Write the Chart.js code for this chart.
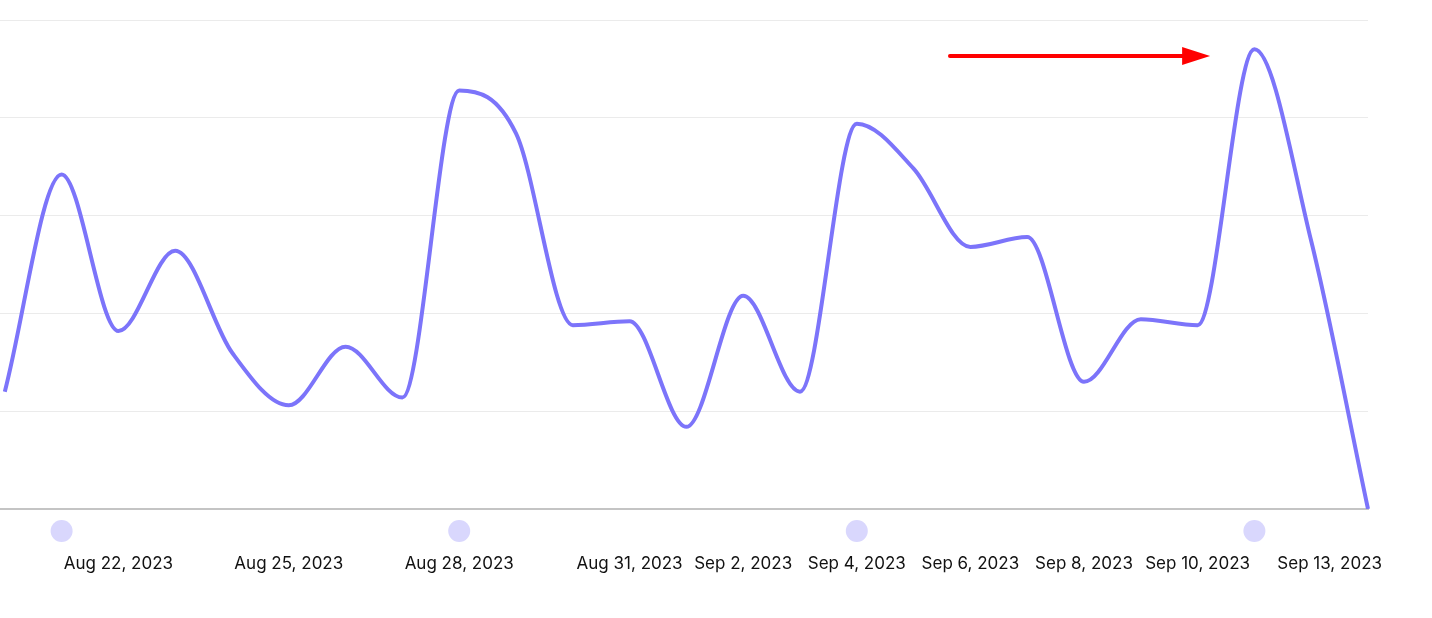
<!DOCTYPE html>
<html>
<head>
<meta charset="utf-8">
<script src="https://cdn.jsdelivr.net/npm/chart.js@4/dist/chart.umd.min.js"></script>
<style>
  html, body { margin: 0; padding: 0; background: #fff; overflow: hidden; }
  #wrap { position: absolute; left: -56px; top: 0; width: 1438px; height: 618px; }
</style>
</head>
<body>
<div id="wrap"><canvas id="chart"></canvas></div>
<script>
// one label per day, Aug 19 sits just off the left edge
const dates = [
  'Aug 19, 2023', 'Aug 20, 2023', 'Aug 21, 2023', 'Aug 22, 2023', 'Aug 23, 2023',
  'Aug 24, 2023', 'Aug 25, 2023', 'Aug 26, 2023', 'Aug 27, 2023', 'Aug 28, 2023',
  'Aug 29, 2023', 'Aug 30, 2023', 'Aug 31, 2023', 'Sep 1, 2023', 'Sep 2, 2023',
  'Sep 3, 2023', 'Sep 4, 2023', 'Sep 5, 2023', 'Sep 6, 2023', 'Sep 7, 2023',
  'Sep 8, 2023', 'Sep 9, 2023', 'Sep 10, 2023', 'Sep 11, 2023', 'Sep 12, 2023',
  'Sep 13, 2023'
];

const values = [
  null, 60, 171, 91, 132,
  80, 53, 83, 57, 214,
  192, 94, 96, 42, 109,
  60, 197, 174, 134, 139,
  65, 97, 94, 235, 137,
  0
];

const tickLabels = [
  'Aug 19, 2023', 'Aug 22, 2023', 'Aug 25, 2023', 'Aug 28, 2023', 'Aug 31, 2023',
  'Sep 2, 2023', 'Sep 4, 2023', 'Sep 6, 2023', 'Sep 8, 2023', 'Sep 10, 2023',
  'Sep 13, 2023'
];

// weekly markers under the axis
const markerDates = ['Aug 21, 2023', 'Aug 28, 2023', 'Sep 4, 2023', 'Sep 11, 2023'];

// arrow annotation, in axis units (category index, value)
const arrowStart = [17.64, 231.6];
const arrowEnd = [22.22, 231.6];

const extras = {
  id: 'extras',
  afterDraw(chart) {
    const ctx = chart.ctx;
    const xs = chart.scales.x;
    const ys = chart.scales.y;
    const area = chart.chartArea;

    ctx.save();
    // markers
    ctx.fillStyle = '#d9d7fd';
    markerDates.forEach(d => {
      const x = xs.getPixelForValue(dates.indexOf(d));
      ctx.beginPath();
      ctx.arc(x, area.bottom + 22, 11, 0, Math.PI * 2);
      ctx.fill();
    });

    // tick labels, kept inside the canvas
    ctx.font = '17px Inter, "Noto Sans", sans-serif';
    ctx.fillStyle = '#111';
    ctx.textAlign = 'center';
    ctx.textBaseline = 'middle';
    tickLabels.forEach(lbl => {
      let x = xs.getPixelForValue(dates.indexOf(lbl));
      const w = ctx.measureText(lbl).width;
      x = Math.min(x, chart.width - w / 2);
      ctx.fillText(lbl, x, area.bottom + 55);
    });

    // red arrow
    const x1 = xs.getPixelForValue(arrowStart[0]);
    const y1 = ys.getPixelForValue(arrowStart[1]);
    const x2 = xs.getPixelForValue(arrowEnd[0]);
    const y2 = ys.getPixelForValue(arrowEnd[1]);
    ctx.strokeStyle = '#ff0000';
    ctx.fillStyle = '#ff0000';
    ctx.lineWidth = 4;
    ctx.lineCap = 'round';
    ctx.beginPath();
    ctx.moveTo(x1, y1);
    ctx.lineTo(x2 - 26, y2);
    ctx.stroke();
    ctx.beginPath();
    ctx.moveTo(x2, y2);
    ctx.lineTo(x2 - 28, y2 - 9);
    ctx.lineTo(x2 - 28, y2 + 9);
    ctx.closePath();
    ctx.fill();
    ctx.restore();
  }
};

const ctx = document.getElementById('chart').getContext('2d');
let myChart = new Chart(ctx, {
  type: 'line',
  data: {
    labels: dates,
    datasets: [{
      data: values,
      borderColor: 'rgb(124,116,250)',
      borderWidth: 4,
      pointRadius: 0,
      cubicInterpolationMode: 'monotone',
      fill: false
    }]
  },
  options: {
    responsive: true,
    maintainAspectRatio: false,
    animation: false,
    layout: { padding: { left: 4, right: 14, top: 20, bottom: 109 } },
    plugins: { legend: { display: false }, tooltip: { enabled: false } },
    scales: {
      x: {
        ticks: { display: false },
        grid: { display: false, drawTicks: false },
        border: { display: true, color: '#c4c4c4', width: 2 }
      },
      y: {
        min: 0,
        max: 250,
        ticks: { display: false, stepSize: 50 },
        grid: { color: '#ebebeb', drawTicks: false },
        border: { display: false }
      }
    }
  },
  plugins: [extras]
});
</script>
</body>
</html>
